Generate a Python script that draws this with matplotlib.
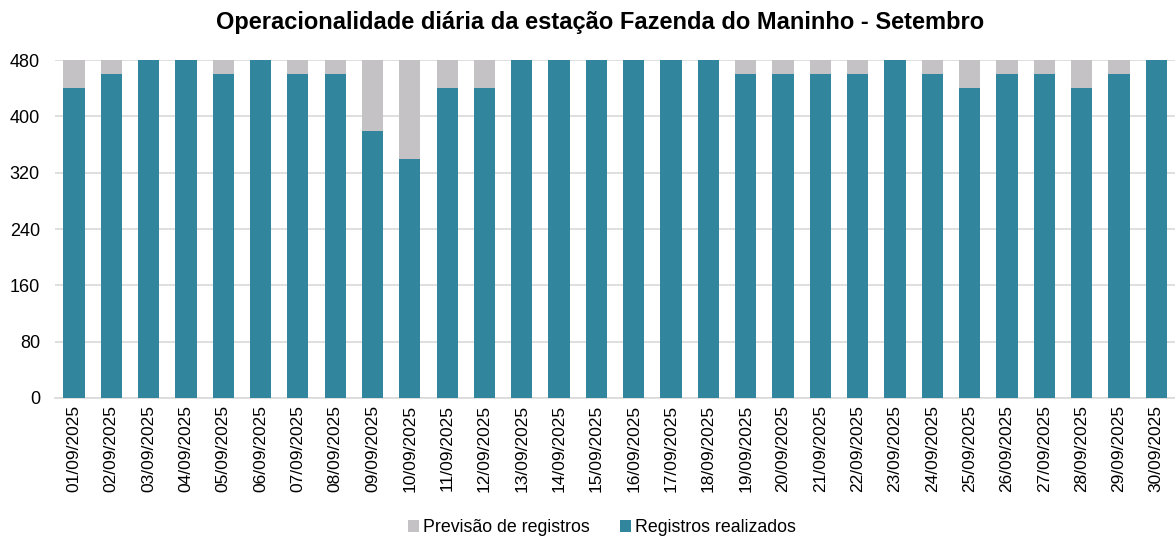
import matplotlib.pyplot as plt
import numpy as np

plt.rcParams['font.family'] = ['Liberation Sans', 'DejaVu Sans']

dias = ['%02d/09/2025' % d for d in range(1, 31)]
previsao = [480] * 30
realizados = [440, 460, 480, 480, 460, 480, 460, 460, 380, 340,
              440, 440, 480, 480, 480, 480, 480, 480, 460, 460,
              460, 460, 480, 460, 440, 460, 460, 440, 460, 480]

cor_prev = '#C4C2C4'
cor_real = '#31859C'

fig = plt.figure(figsize=(11.75, 5.37), dpi=100)
ax = fig.add_axes([0.047, 0.259, 0.953, 0.629])

x = np.arange(len(dias))
ax.bar(x, previsao, width=0.57, color=cor_prev, label='Previsão de registros', zorder=2)
ax.bar(x, realizados, width=0.57, color=cor_real, label='Registros realizados', zorder=3)

ax.set_xlim(-0.5, len(dias) - 0.5)
ax.set_ylim(0, 480)
ax.set_yticks(np.arange(0, 481, 80))
ax.set_xticks(x)
ax.set_xticklabels(dias, rotation=90, fontsize=12.5)
ax.tick_params(axis='y', labelsize=13, length=0, pad=11)
ax.tick_params(axis='x', length=0, pad=5)
ax.grid(axis='y', color='#D9D9D9', linewidth=1.2, zorder=0)
for s in ['top', 'right', 'left']:
    ax.spines[s].set_visible(False)
ax.spines['bottom'].set_color('#D9D9D9')
ax.spines['bottom'].set_linewidth(1.2)

fig.suptitle('Operacionalidade diária da estação Fazenda do Maninho - Setembro',
             fontsize=17, fontweight='bold', x=0.511, y=0.98)

fig.legend(loc='lower center', bbox_to_anchor=(0.512, -0.028), ncol=2, frameon=False,
           fontsize=12.8, handlelength=0.65, handleheight=0.65, handletextpad=0.2,
           columnspacing=1.7)

plt.savefig('out.png', dpi=100)
